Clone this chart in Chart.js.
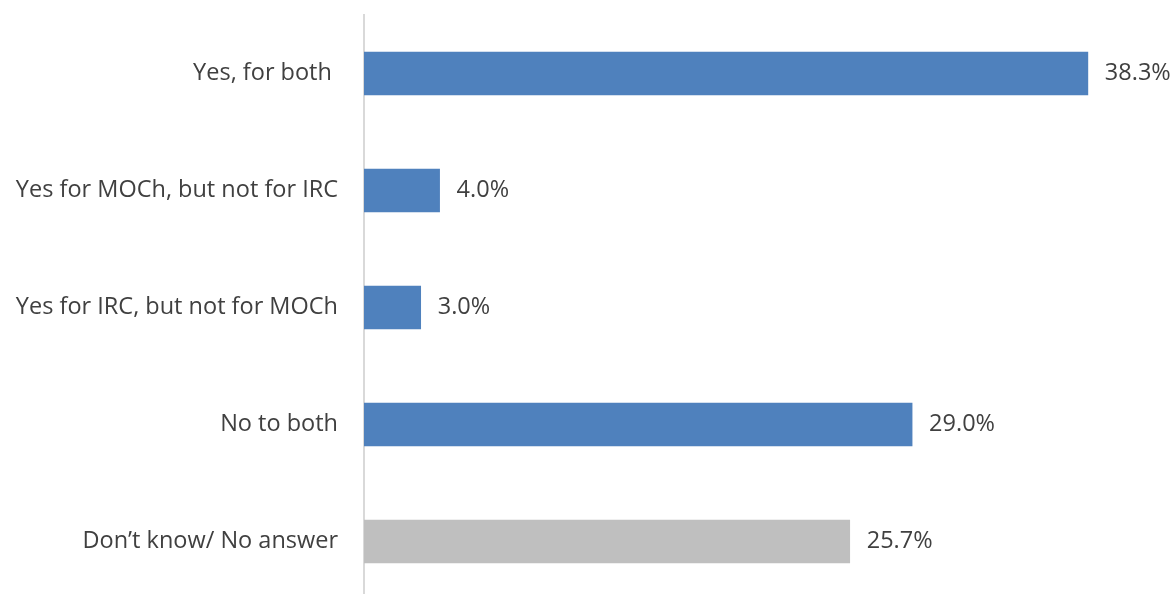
<!DOCTYPE html>
<html>
<head>
<meta charset="utf-8">
<script src="https://cdn.jsdelivr.net/npm/chart.js@4/dist/chart.umd.min.js"></script>
<style>
html,body{margin:0;padding:0;background:#fff;overflow:hidden;}
#wrap{width:1174px;height:600px;position:relative;}
</style>
</head>
<body>
<div id="wrap"><canvas id="c"></canvas></div>
<script>
const categories = ["Yes, for both ", "Yes for MOCh, but not for IRC", "Yes for IRC, but not for MOCh", "No to both", "Don\u2019t know/ No answer"];
const values = [38.3, 4.0, 3.0, 29.0, 25.7];
const valueLabels = ["38.3%", "4.0%", "3.0%", "29.0%", "25.7%"];
const barColors = ["#4F81BD", "#4F81BD", "#4F81BD", "#4F81BD", "#BFBFBF"];

const FONT = "'Open Sans', sans-serif";
const TEXT = "#404040";
const FSIZE = 23.5;

const valueLabelPlugin = {
  id: 'valueLabels',
  afterDatasetsDraw(chart) {
    const ctx = chart.ctx;
    const meta = chart.getDatasetMeta(0);
    ctx.save();
    ctx.font = FSIZE + "px " + FONT;
    ctx.fillStyle = TEXT;
    ctx.textAlign = 'left';
    ctx.textBaseline = 'middle';
    meta.data.forEach((bar, i) => {
      ctx.fillText(valueLabels[i], bar.x + 17, bar.y);
    });
    ctx.restore();
  }
};

new Chart(document.getElementById('c'), {
  type: 'bar',
  data: {
    labels: categories,
    datasets: [{
      data: values,
      backgroundColor: barColors,
      borderWidth: 0,
      barThickness: 43
    }]
  },
  options: {
    indexAxis: 'y',
    responsive: true,
    maintainAspectRatio: false,
    animation: false,
    layout: { padding: { top: 15, right: 54, left: 0, bottom: 0 } },
    plugins: { legend: { display: false }, tooltip: { enabled: false } },
    scales: {
      x: {
        min: 0, max: 40,
        display: false,
        grid: { display: false }
      },
      y: {
        afterFit(scale) { scale.width = 364; scale.paddingTop = 0; scale.paddingBottom = 0; },
        grid: { display: false, drawTicks: false },
        border: { display: true, color: '#D9D9D9', width: 2 },
        ticks: {
          padding: 26,
          color: TEXT,
          font: { family: FONT, size: FSIZE }
        }
      }
    }
  },
  plugins: [valueLabelPlugin]
});
</script>
</body>
</html>
